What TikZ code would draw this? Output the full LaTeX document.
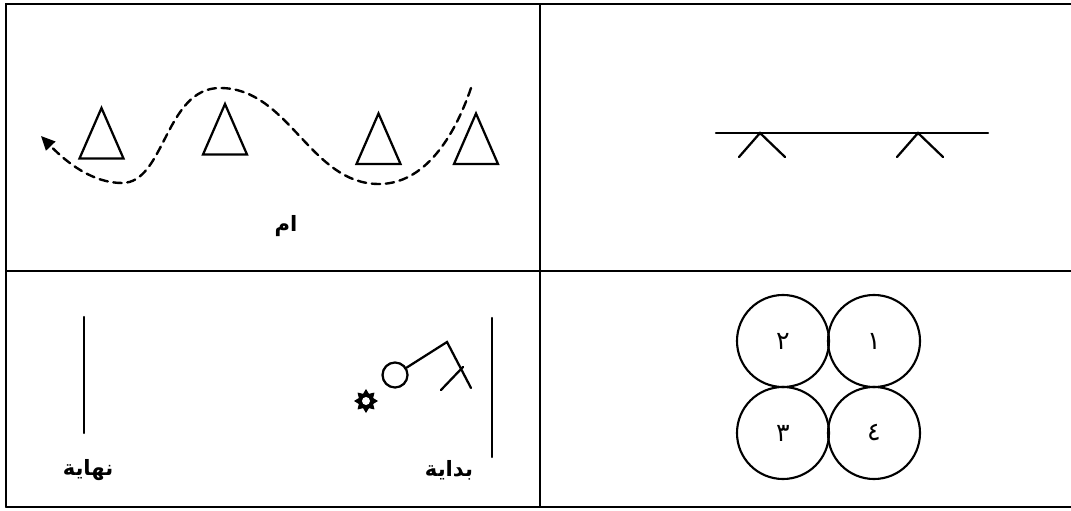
\documentclass[tikz,border=0pt]{standalone}
\usepackage{fontspec}
\usepackage{tikz}
\usetikzlibrary{arrows.meta,shapes.geometric}
\newfontfamily\arabicfont[Script=Arabic]{DejaVu Sans}
\TeXXeTstate=1

\begin{document}
\begin{tikzpicture}[x=0.025cm,y=-0.025cm,line cap=round,
  tablerule/.style={line width=1.4pt},
  stroke/.style={line width=1.6pt},
  route/.style={line width=1.7pt,dash pattern=on 6pt off 4pt,-{Triangle[length=10pt,width=9pt]}},
  caption/.style={font=\arabicfont\bfseries\fontsize{15}{17}\selectfont,inner sep=0pt},
  disc/.style={circle,draw,line width=1.5pt,minimum size=2.3cm,inner sep=0pt,font=\arabicfont\fontsize{18}{20}\selectfont}]
\useasboundingbox (0,0) rectangle (1071,511);
% table
\draw[tablerule] (6,507) -- (6,4) -- (1071,4);
\draw[tablerule] (6,507) -- (1071,507);
\draw[tablerule] (540,4) -- (540,507);
\draw[tablerule] (6,271) -- (1071,271);
% top left: cones and run
\foreach \x/\y in {101.5/108, 225/104, 378.5/113.5, 476/113.5}
  \draw[stroke] (\x,\y) -- ++(-22,50.5) -- ++(44,0) -- cycle;
\draw[route] (471,88) .. controls (454,138) and (424,184) .. (379,184)
  .. controls (310,184) and (289,88) .. (220,88)
  .. controls (165,88) and (165,183) .. (122,183)
  .. controls (93,183) and (67,163) .. (41,136);
\node[caption] (um) at (286,226) {\beginR ام\endR};
% top right: bench
\draw[stroke] (716,133) -- (988,133);
\foreach \x in {760,918}
  \draw[stroke] (\x-21,157) -- (\x,133) -- (\x+25,157);
% bottom left: start and end
\draw[stroke] (84,317) -- (84,433);
\draw[stroke] (492,318) -- (492,457);
\node[caption] (nihaya) at (88,470) {\beginR نهاية\endR};
\node[caption] (bidaya) at (449,470) {\beginR بداية\endR};
\node[circle,draw,line width=1.6pt,minimum size=0.625cm,inner sep=0pt] (ball) at (395,375) {};
\coordinate (bend) at (447,342);
\draw[stroke] (ball) -- (bend) -- (471,388);
\draw[stroke] (441,390) -- (463,367);
\node[star,star points=8,star point ratio=1.55,fill,inner sep=0pt,minimum size=0.6cm] (sun) at (366,401) {};
\fill[white] (sun.center) circle[radius=4];
% bottom right: four circles
\node[disc] (c1) at (874,341) {\beginR ١\endR};
\node[disc] (c2) at (783,341) {\beginR ٢\endR};
\node[disc] (c3) at (783,433) {\beginR ٣\endR};
\node[disc] (c4) at (874,433) {\beginR ٤\endR};
\end{tikzpicture}
\end{document}
